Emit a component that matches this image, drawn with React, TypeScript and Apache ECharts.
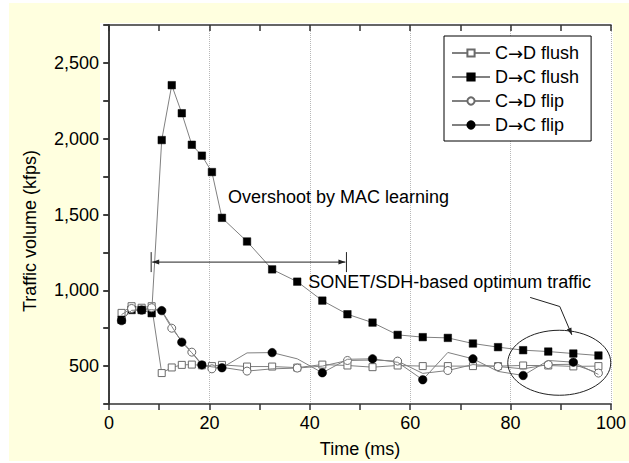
import React, { useEffect, useRef } from 'react';
import * as echarts from 'echarts';

// Time (ms) of each sample
const times = [2.5, 4.5, 6.5, 8.5, 10.5, 12.5, 14.5, 16.5, 18.5, 20.5, 22.5, 27.5, 32.5, 37.5, 42.5, 47.5, 52.5, 57.5, 62.5, 67.5, 72.5, 77.5, 82.5, 87.5, 92.5, 97.5];

// Traffic volume (kfps)
const cdFlush = [851, 895, 885, 895, 454, 491, 508, 510, 505, 500, 508, 497, 497, 490, 510, 504, 493, 504, 500, 500, 500, 500, 504, 504, 498, 500];
const dcFlush = [805, 870, 870, 849, 1991, 2353, 2168, 1960, 1888, 1780, 1478, 1322, 1138, 1057, 932, 842, 787, 706, 691, 686, 649, 625, 605, 596, 583, 570];
const cdFlip = [840, 880, 872, 885, 862, 750, 665, 592, 512, 482, 492, 467, 482, 487, 500, 537, 540, 533, 452, 471, 510, 497, 482, 510, 512, 454];
const dcFlip = [800, 868, 870, 872, 866, 762, 658, 588, 508, 495, 489, 587, 589, 548, 456, 545, 548, 525, 410, 590, 548, 465, 438, 537, 526, 445];

const seriesNames = ['C\u2192D flush', 'D\u2192C flush', 'C\u2192D flip', 'D\u2192C flip'];

const xMin = 0;
const xMax = 100;
const yMin = 250;
const yMax = 2750;

const FONT = 'Arial, "Liberation Sans", sans-serif';
const LINE_GRAY = '#808080';
const MARK_GRAY = '#6a6a6a';
const AXIS = '#333';
const BG_YELLOW = '#FFFFDF';

export default function App() {
  const ref = useRef<HTMLDivElement>(null);

  useEffect(() => {
    if (!ref.current) return;
    const chart = echarts.init(ref.current, undefined, { renderer: 'svg' });

    const pts = (vals: number[], markerParity: number | null, sym: string) =>
      times.map((t, i) => ({
        value: [t, vals[i]],
        symbol: markerParity === null || i % 2 === markerParity ? sym : 'none',
      }));

    const axisLineStyle = { color: AXIS, width: 1.5 };

    const legendFormatter = (name: string) => {
      const parts = name.split('\u2192');
      return `{t|${parts[0]}}{arr|\u2192}{t|${parts[1]}}`;
    };

    const option: any = {
      animation: false,
      backgroundColor: 'transparent',
      textStyle: { fontFamily: FONT },
      grid: { left: 109, top: 25, width: 510, height: 381, containLabel: false },
      legend: {
        data: seriesNames,
        orient: 'vertical',
        left: 444,
        top: 36,
        backgroundColor: '#fff',
        borderColor: '#000',
        borderWidth: 1,
        padding: [8, 12, 7, 7],
        itemGap: 6,
        itemWidth: 38,
        itemHeight: 9,
        selectedMode: false,
        formatter: legendFormatter,
        textStyle: {
          fontSize: 18,
          color: '#000',
          fontFamily: FONT,
          rich: {
            t: { fontSize: 18, color: '#000', fontFamily: FONT },
            arr: { fontSize: 18, color: '#000', fontFamily: '"DejaVu Sans", sans-serif' },
          },
        },
      },
      xAxis: [
        {
          type: 'value',
          position: 'bottom',
          min: xMin,
          max: xMax,
          interval: 20,
          axisLine: { show: true, lineStyle: axisLineStyle },
          axisTick: { show: true, inside: false, length: 6, lineStyle: axisLineStyle },
          minorTick: { show: true, splitNumber: 2, length: 6, lineStyle: axisLineStyle },
          axisLabel: { fontSize: 18, color: '#000', margin: 10, fontFamily: FONT },
          splitLine: { show: true, lineStyle: { type: 'dotted', color: '#b8b8b8', width: 1 } },
          name: 'Time (ms)',
          nameLocation: 'middle',
          nameGap: 36,
          nameTextStyle: { fontSize: 18, color: '#000', fontFamily: FONT },
        },
        {
          type: 'value',
          position: 'top',
          min: xMin,
          max: xMax,
          interval: 10,
          axisLine: { show: true, lineStyle: axisLineStyle },
          axisTick: { show: true, inside: true, length: 6, lineStyle: axisLineStyle },
          axisLabel: { show: false },
          splitLine: { show: false },
        },
      ],
      yAxis: [
        {
          type: 'value',
          position: 'left',
          min: yMin,
          max: yMax,
          interval: 250,
          axisLine: { show: true, lineStyle: axisLineStyle },
          axisTick: { show: true, inside: false, length: 5, lineStyle: axisLineStyle },
          axisLabel: {
            fontSize: 18,
            color: '#000',
            margin: 10,
            fontFamily: FONT,
            formatter: (v: number) =>
              v % 500 === 0 && v >= 500 && v <= 2500 ? v.toLocaleString('en-US') : '',
          },
          splitLine: { show: false },
        },
        {
          type: 'value',
          position: 'right',
          min: yMin,
          max: yMax,
          interval: 250,
          axisLine: { show: true, lineStyle: axisLineStyle },
          axisTick: { show: true, inside: true, length: 6, lineStyle: axisLineStyle },
          axisLabel: { show: false },
          splitLine: { show: false },
        },
      ],
      series: [
        {
          name: seriesNames[0],
          type: 'line',
          data: pts(cdFlush, null, 'rect'),
          symbol: 'rect',
          symbolSize: 7,
          showAllSymbol: true,
          lineStyle: { color: LINE_GRAY, width: 1 },
          itemStyle: { color: '#fff', borderColor: MARK_GRAY, borderWidth: 1 },
          z: 2,
        },
        {
          name: seriesNames[1],
          type: 'line',
          data: pts(dcFlush, null, 'rect'),
          symbol: 'rect',
          symbolSize: 7.5,
          showAllSymbol: true,
          lineStyle: { color: LINE_GRAY, width: 1 },
          itemStyle: { color: '#000', borderColor: '#000', borderWidth: 0.5 },
          z: 3,
        },
        {
          name: seriesNames[2],
          type: 'line',
          data: pts(cdFlip, 1, 'circle'),
          symbol: 'circle',
          symbolSize: 8,
          showAllSymbol: true,
          lineStyle: { color: LINE_GRAY, width: 1 },
          itemStyle: { color: '#fff', borderColor: MARK_GRAY, borderWidth: 1 },
          z: 4,
        },
        {
          name: seriesNames[3],
          type: 'line',
          data: pts(dcFlip, 0, 'circle'),
          symbol: 'circle',
          symbolSize: 8.5,
          showAllSymbol: true,
          lineStyle: { color: LINE_GRAY, width: 1 },
          itemStyle: { color: '#000', borderColor: '#000', borderWidth: 0.5 },
          z: 5,
        },
      ],
    };

    chart.setOption(option);

    // Annotation anchors in data coordinates
    const px = (x: number, y: number) => chart.convertToPixel({ gridIndex: 0 }, [x, y]) as number[];
    const overshootAt = px(23.7, 1617);
    const sonetAt = px(39.7, 1053);
    const spanL = px(8.4, 1186);
    const spanR = px(47.3, 1186);
    const lead1 = px(83.9, 953);
    const lead2 = px(89.8, 893);
    const lead3 = px(92.2, 706);
    const ell = px(89.7, 522);

    const arrowHead = (tip: number[], from: number[], len: number, half: number) => {
      const dx = tip[0] - from[0];
      const dy = tip[1] - from[1];
      const d = Math.hypot(dx, dy) || 1;
      const ux = dx / d;
      const uy = dy / d;
      const bx = tip[0] - ux * len;
      const by = tip[1] - uy * len;
      return [
        [tip[0], tip[1]],
        [bx - uy * half, by + ux * half],
        [bx + uy * half, by - ux * half],
      ];
    };

    const stroke = { stroke: '#222', lineWidth: 1 };
    const gBase = px(xMin, yMin);
    const gTop = px(xMax, yMax);

    chart.setOption({
      graphic: [
        {
          type: 'rect',
          z: -99,
          silent: true,
          shape: { x: gBase[0] - 9, y: gTop[1] - 2, width: gTop[0] - gBase[0] + 11, height: gBase[1] - gTop[1] + 8 },
          style: { fill: '#fff' },
        },
        {
          type: 'text',
          x: 30,
          y: 231,
          rotation: Math.PI / 2,
          style: {
            text: 'Traffic volume (kfps)',
            font: `18px ${FONT}`,
            fill: '#000',
            align: 'center',
            verticalAlign: 'middle',
            textAlign: 'center',
            textVerticalAlign: 'middle',
          },
        },
        {
          type: 'text',
          x: overshootAt[0],
          y: overshootAt[1],
          z: 10,
          style: {
            text: 'Overshoot by MAC learning',
            font: `18px ${FONT}`,
            fill: '#000',
            align: 'left',
            verticalAlign: 'middle',
            textAlign: 'left',
            textVerticalAlign: 'middle',
          },
        },
        {
          type: 'text',
          x: sonetAt[0],
          y: sonetAt[1],
          z: 10,
          style: {
            text: 'SONET/SDH-based optimum traffic',
            font: `18px ${FONT}`,
            fill: '#000',
            align: 'left',
            verticalAlign: 'middle',
            textAlign: 'left',
            textVerticalAlign: 'middle',
          },
        },
        // double arrow span
        { type: 'line', z: 10, shape: { x1: spanL[0] + 1, y1: spanL[1], x2: spanR[0] - 1, y2: spanR[1] }, style: stroke },
        { type: 'line', z: 10, shape: { x1: spanL[0], y1: spanL[1] - 10, x2: spanL[0], y2: spanL[1] + 10 }, style: stroke },
        { type: 'line', z: 10, shape: { x1: spanR[0], y1: spanR[1] - 10, x2: spanR[0], y2: spanR[1] + 10 }, style: stroke },
        { type: 'polygon', z: 10, shape: { points: arrowHead([spanL[0] + 1, spanL[1]], [spanR[0], spanR[1]], 7, 2.5) }, style: { fill: '#222' } },
        { type: 'polygon', z: 10, shape: { points: arrowHead([spanR[0] - 1, spanR[1]], [spanL[0], spanL[1]], 7, 2.5) }, style: { fill: '#222' } },
        // leader line to ellipse
        { type: 'polyline', z: 10, shape: { points: [lead1, lead2, lead3] }, style: { ...stroke, fill: null } },
        { type: 'polygon', z: 10, shape: { points: arrowHead(lead3, lead2, 7, 2.5) }, style: { fill: '#222' } },
        {
          type: 'ellipse',
          z: 10,
          shape: { cx: ell[0], cy: ell[1], rx: 51.5, ry: 32.5 },
          style: { fill: null, stroke: '#222', lineWidth: 1 },
        },
      ],
    });

    return () => chart.dispose();
  }, []);

  return (
    <div style={{ position: 'absolute', left: 0, top: 0, width: 629, height: 463, background: '#fff' }}>
      <div style={{ position: 'absolute', left: 9, top: 3, width: 620, height: 458, background: BG_YELLOW }} />
      <div ref={ref} style={{ position: 'absolute', left: 0, top: 0, width: 629, height: 463 }} />
    </div>
  );
}
